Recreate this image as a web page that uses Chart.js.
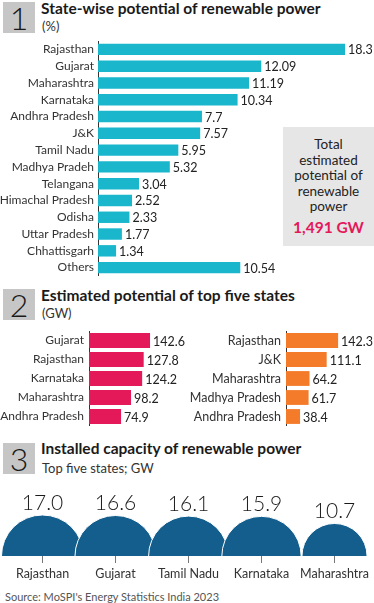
<!DOCTYPE html>
<html>
<head>
<meta charset="utf-8">
<script src="https://cdn.jsdelivr.net/npm/chart.js@4.4.0/dist/chart.umd.min.js"></script>
<style>
  body { margin: 0; background: #fff; font-family: Lato, sans-serif; color: #222; }
  #page { position: relative; width: 374px; height: 603px; overflow: hidden; }
  .num { position: absolute; left: 3px; width: 32px; height: 31px; background: #c6c6c6;
         font-size: 32px; font-weight: 300; text-align: center; line-height: 32px; color: #1a1a1a; }
  .title { position: absolute; left: 41px; font-size: 15.5px; line-height: 15.5px; font-weight: 700;
           color: #1a1a1a; white-space: nowrap; }
  .sub { position: absolute; left: 42px; font-size: 13px; line-height: 13px; color: #333; white-space: nowrap; }
  .total { position: absolute; left: 283px; top: 127px; width: 91px; height: 119px; background: #e6e6e6;
           text-align: center; font-size: 13.5px; line-height: 15.5px; color: #222; box-sizing: border-box; padding-top: 10px; }
  .total .big { color: #e3195a; font-weight: 700; font-size: 15.5px; margin-top: 5px; }
  canvas { position: absolute; }
  .source { position: absolute; left: 5px; top: 590px; font-size: 11px; color: #555; }
</style>
</head>
<body>
<div id="page">
  <div class="num" style="top:2px">1</div>
  <div class="title" style="top:1px">State-wise potential of renewable power</div>
  <div class="sub" style="top:19.5px">(%)</div>
  <canvas id="shareChart" width="374" height="235" style="left:0;top:41px"></canvas>
  <div class="total">
    Total<br>estimated<br>potential of<br>renewable<br>power
    <div class="big">1,491 GW</div>
  </div>

  <div class="num" style="top:289px">2</div>
  <div class="title" style="top:288px">Estimated potential of top five states</div>
  <div class="sub" style="top:306.5px">(GW)</div>
  <canvas id="estLeft" width="190" height="95" style="left:0;top:331px"></canvas>
  <canvas id="estRight" width="204" height="95" style="left:186px;top:331px"></canvas>

  <div class="num" style="top:443px">3</div>
  <div class="title" style="top:441px">Installed capacity of renewable power</div>
  <div class="sub" style="top:461.5px">Top five states; GW</div>
  <canvas id="installed" width="374" height="94" style="left:0;top:490px"></canvas>

  <div class="source">Source: MoSPI's Energy Statistics India 2023</div>
</div>

<script>
// ===============================
// Data
// ===============================
const shareStates = ["Rajasthan", "Gujarat", "Maharashtra", "Karnataka", "Andhra Pradesh", "J&K",
  "Tamil Nadu", "Madhya Pradeh", "Telangana", "Himachal Pradesh", "Odisha", "Uttar Pradesh",
  "Chhattisgarh", "Others"];
const shareValues = [18.3, 12.09, 11.19, 10.34, 7.7, 7.57, 5.95, 5.32, 3.04, 2.52, 2.33, 1.77, 1.34, 10.54];

const leftStates = ["Gujarat", "Rajasthan", "Karnataka", "Maharashtra", "Andhra Pradesh"];
const leftValues = [142.6, 127.8, 124.2, 98.2, 74.9];

const rightStates = ["Rajasthan", "J&K", "Maharashtra", "Madhya Pradesh", "Andhra Pradesh"];
const rightValues = [142.3, 111.1, 64.2, 61.7, 38.4];

const installedStates = ["Rajasthan", "Gujarat", "Tamil Nadu", "Karnataka", "Maharashtra"];
const installedValues = [17.0, 16.6, 16.1, 15.9, 10.7];

// ===============================
// Defaults
// ===============================
Chart.defaults.font.family = "Lato, sans-serif";
Chart.defaults.color = "#333";
Chart.defaults.animation = false;
Chart.defaults.plugins.legend.display = false;
Chart.defaults.plugins.tooltip.enabled = false;

// value labels at the end of each bar
const barLabels = {
  id: "barLabels",
  afterDatasetsDraw(chart, args, opts) {
    const ctx = chart.ctx;
    const meta = chart.getDatasetMeta(0);
    ctx.save();
    ctx.font = `${opts.size || 12.5}px Lato, sans-serif`;
    ctx.fillStyle = "#222";
    ctx.textBaseline = "middle";
    meta.data.forEach((bar, i) => {
      ctx.fillText(String(chart.data.datasets[0].data[i]), bar.x + 3, bar.y + 1);
    });
    ctx.restore();
  },
};

function makeBarChart(id, labels, values, color, opts) {
  return new Chart(document.getElementById(id), {
    type: "bar",
    data: {
      labels: labels,
      datasets: [{
        data: values,
        backgroundColor: color,
        barPercentage: opts.barPct,
        categoryPercentage: 1,
      }],
    },
    options: {
      responsive: false,
      indexAxis: "y",
      layout: { autoPadding: false, padding: { right: opts.padRight, top: 0, bottom: 0, left: 0 } },
      scales: {
        x: { display: false, min: 0, max: opts.max },
        y: {
          // fixed axis width, and no extra room above/below for the labels
          afterFit: (s) => {
            s.width = opts.axisX;
            s.paddingTop = 0;
            s.paddingBottom = 0;
          },
          grid: { display: false, drawTicks: false },
          border: { color: "#333", width: 1 },
          ticks: { font: { size: opts.tickSize }, color: "#333", padding: opts.tickPad, autoSkip: false },
        },
      },
      plugins: { barLabels: { size: opts.labelSize } },
    },
    plugins: [barLabels],
  });
}

// ===============================
// Charts 1 and 2
// ===============================
makeBarChart("shareChart", shareStates, shareValues, "#19b6cc",
  { max: 20, axisX: 98, padRight: 6, barPct: 0.68, tickSize: 12, tickPad: 4, labelSize: 12.5 });

makeBarChart("estLeft", leftStates, leftValues, "#e3195a",
  { max: 236, axisX: 89, padRight: 0, barPct: 0.78, tickSize: 12, tickPad: 5, labelSize: 12.5 });

makeBarChart("estRight", rightStates, rightValues, "#f37b2a",
  { max: 284, axisX: 100, padRight: 0, barPct: 0.78, tickSize: 12.5, tickPad: 5, labelSize: 12.5 });

// ===============================
// Chart 3: semicircles (area-scaled bubbles cut at the baseline)
// ===============================
const radiusPerRoot = 41 / Math.sqrt(17.0);

const bubbleLabels = {
  id: "bubbleLabels",
  afterDatasetsDraw(chart) {
    const ctx = chart.ctx;
    const meta = chart.getDatasetMeta(0);
    ctx.save();
    ctx.font = "300 21px Lato, sans-serif";
    ctx.fillStyle = "#1a1a1a";
    ctx.textAlign = "center";
    ctx.textBaseline = "alphabetic";
    meta.data.forEach((pt, i) => {
      const r = chart.data.datasets[0].data[i].r;
      ctx.fillText(installedValues[i].toFixed(1), pt.x, pt.y - r - 5);
    });
    ctx.restore();
  },
};

new Chart(document.getElementById("installed"), {
  type: "bubble",
  data: {
    labels: installedStates,
    datasets: [{
      data: installedStates.map((s, i) => ({
        x: s,
        y: 0,
        r: radiusPerRoot * Math.sqrt(installedValues[i]),
      })),
      backgroundColor: "#135e8c",
      borderColor: "#fff",
      borderWidth: 1,
      clip: { left: 60, top: 80, right: 60, bottom: 0 },
    }],
  },
  options: {
    responsive: false,
    layout: { autoPadding: false, padding: { left: 6, right: 3, top: 0, bottom: 0 } },
    scales: {
      x: {
        type: "category",
        offset: true,
        grid: { display: true, offset: false, drawOnChartArea: false, drawTicks: true, tickLength: 7, color: "#777" },
        border: { display: false },
        ticks: { font: { size: 12.5 }, color: "#333", padding: 3, autoSkip: false, maxRotation: 0, minRotation: 0 },
      },
      y: { display: false, min: 0, max: 1 },
    },
  },
  plugins: [bubbleLabels],
});
</script>
</body>
</html>
